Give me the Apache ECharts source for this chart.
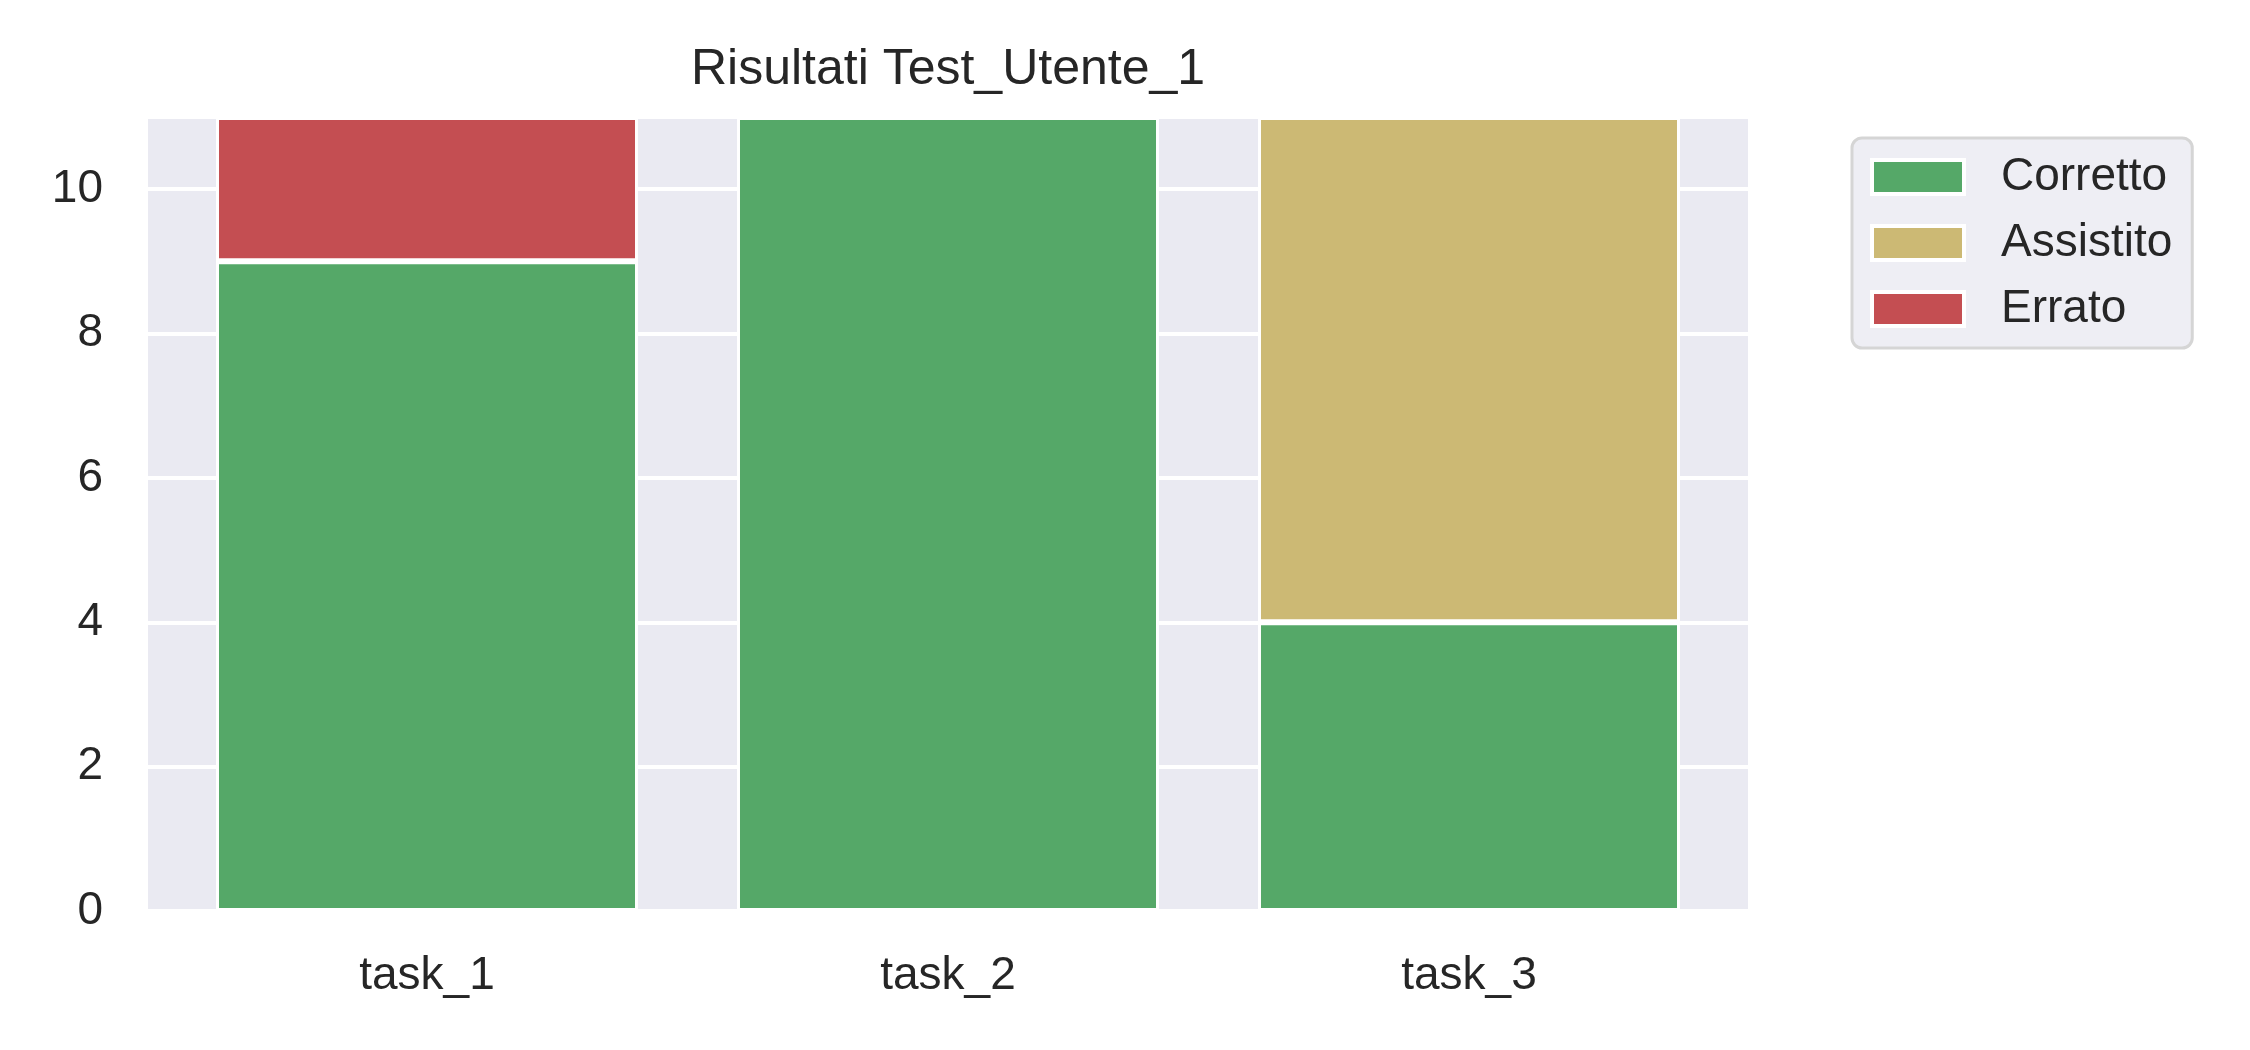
<!DOCTYPE html>
<html>
<head>
<meta charset="utf-8">
<script src="https://cdn.jsdelivr.net/npm/echarts@6/dist/echarts.min.js"></script>
<style>
  html, body { margin: 0; padding: 0; background: #fff; }
  #chart { width: 2250px; height: 1050px; }
</style>
</head>
<body>
<div id="chart"></div>
<script>
// dati
const tasks = ['task_1', 'task_2', 'task_3'];
const corretto = [9, 11, 4];
const assistito = [0, 0, 7];
const errato = [2, 0, 0];
const yTicks = [0, 2, 4, 6, 8, 10];

const textColor = '#262626';
const font = 'Liberation Sans, Arial, sans-serif';

const chart = echarts.init(document.getElementById('chart'));

// una unità sull'asse x (bar 0.8, margini 0.04 a lato)
const plotLeft = 148, plotWidth = 1600, plotTop = 117, plotHeight = 794;
const unit = 521;

function barSeries(name, data, color) {
    return {
        name: name,
        type: 'bar',
        stack: 'tot',
        xAxisIndex: 1,
        yAxisIndex: 1,
        barWidth: '81%',
        data: data,
        itemStyle: { color: color, borderColor: '#fff', borderWidth: 3 },
        emphasis: { disabled: true }
    };
}

const option = {
    animation: false,
    textStyle: { fontFamily: font, color: textColor },
    title: {
        text: 'Risultati Test_Utente_1',
        left: plotLeft + plotWidth / 2,
        textAlign: 'center',
        top: 45,
        padding: 0,
        textStyle: { fontSize: 50, fontWeight: 'normal', color: textColor, fontFamily: font }
    },
    legend: {
        orient: 'vertical',
        left: 1852,
        top: 138,
        padding: [16, 20, 16, 18],
        itemWidth: 92,
        itemHeight: 34,
        itemGap: 20,
        icon: 'rect',
        backgroundColor: '#EEEEF4',
        borderColor: '#D5D5D5',
        borderWidth: 3,
        borderRadius: 10,
        itemStyle: { borderColor: '#fff', borderWidth: 4 },
        textStyle: { fontSize: 46, lineHeight: 46, color: textColor, fontFamily: font, padding: [0, 0, 0, 32] },
        data: ['Corretto', 'Assistito', 'Errato']
    },
    grid: [
        {
            left: plotLeft, top: plotTop, width: plotWidth, height: plotHeight,
            show: true, backgroundColor: '#EAEAF2', borderWidth: 0
        },
        {
            left: plotLeft + plotWidth / 2 - 1.5 * unit, top: plotTop, width: 3 * unit, height: plotHeight
        }
    ],
    xAxis: [
        { type: 'value', gridIndex: 0, min: 0, max: 1, show: false },
        {
            type: 'category',
            gridIndex: 1,
            data: tasks,
            axisLine: { show: false },
            axisTick: { show: false },
            splitLine: { show: false },
            axisLabel: { fontSize: 46, color: textColor, fontFamily: font, margin: 42 }
        }
    ],
    yAxis: [
        {
            type: 'value',
            gridIndex: 0,
            min: 0,
            max: 11,
            interval: 2,
            axisLine: { show: false },
            axisTick: { show: false },
            splitLine: { show: true, lineStyle: { color: '#fff', width: 4 } },
            axisLabel: {
                fontSize: 46, color: textColor, fontFamily: font, margin: 45,
                showMaxLabel: false,
                formatter: v => (yTicks.includes(v) ? String(v) : '')
            }
        },
        { type: 'value', gridIndex: 1, min: 0, max: 11, show: false }
    ],
    series: [
        barSeries('Corretto', corretto, '#55A868'),
        barSeries('Assistito', assistito, '#CCB974'),
        barSeries('Errato', errato, '#C44E52')
    ]
};

option && chart.setOption(option);
</script>
</body>
</html>
